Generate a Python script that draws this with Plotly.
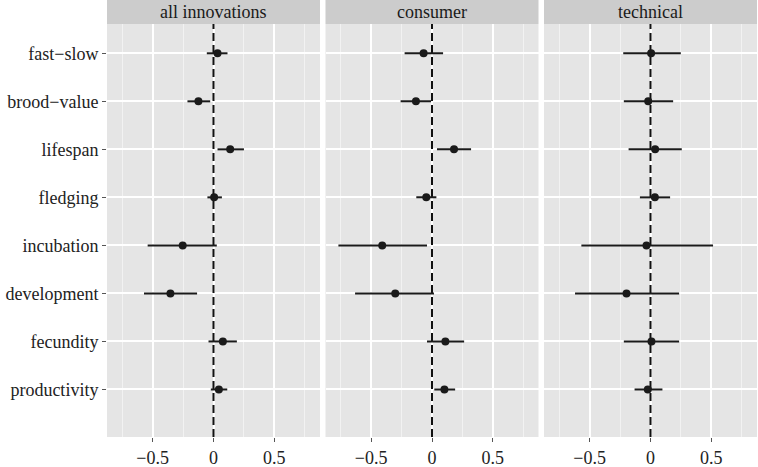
import plotly.graph_objects as go
from plotly.subplots import make_subplots

traits = ["fast−slow", "brood−value", "lifespan", "fledging",
          "incubation", "development", "fecundity", "productivity"]
panels = ["all innovations", "consumer", "technical"]

est_all = [0.033, -0.124, 0.137, 0.005, -0.253, -0.354, 0.077, 0.044]
lo_all = [-0.055, -0.214, 0.033, -0.050, -0.541, -0.571, -0.041, -0.022]
hi_all = [0.115, -0.027, 0.250, 0.069, 0.027, -0.135, 0.192, 0.113]

est_con = [-0.069, -0.132, 0.181, -0.047, -0.409, -0.302, 0.110, 0.102]
lo_con = [-0.225, -0.258, 0.041, -0.129, -0.769, -0.632, -0.041, 0.019]
hi_con = [0.091, -0.008, 0.321, 0.036, -0.041, 0.016, 0.264, 0.190]

est_tec = [0.005, -0.019, 0.038, 0.036, -0.033, -0.197, 0.008, -0.022]
lo_tec = [-0.224, -0.219, -0.180, -0.087, -0.568, -0.620, -0.219, -0.131]
hi_tec = [0.249, 0.186, 0.257, 0.161, 0.514, 0.235, 0.235, 0.098]

x_ticks = [-0.5, 0, 0.5]
x_ticktext = ["−0.5", "0", "0.5"]
x_minor = [-0.75, -0.25, 0.25, 0.75]

data = [(est_all, lo_all, hi_all), (est_con, lo_con, hi_con), (est_tec, lo_tec, hi_tec)]

FONT = "Liberation Serif, DejaVu Serif, serif"
W, H = 758, 467
ML, MR, MT, MB = 107, 1, 24, 30
pw = W - ML - MR
ph = H - MT - MB
panel_w = 213
gap = (pw - 3 * panel_w) / 2

n = len(traits)
ypos = [n - 1 - k for k in range(n)]
y_range = [-0.99, n - 1 + 0.61]

fig = make_subplots(rows=1, cols=3, shared_yaxes=True)

for i, (est, lo, hi) in enumerate(data):
    col = i + 1
    # zero reference line (drawn first, under the points)
    fig.add_trace(go.Scatter(
        x=[0, 0], y=y_range, mode="lines",
        line=dict(color="#111111", width=2, dash="8px,4px"),
        showlegend=False, hoverinfo="skip"), row=1, col=col)
    fig.add_trace(go.Scatter(
        x=est, y=ypos, mode="markers",
        marker=dict(color="#1a1a1a", size=8),
        error_x=dict(type="data", symmetric=False,
                     array=[h - e for h, e in zip(hi, est)],
                     arrayminus=[e - l for e, l in zip(est, lo)],
                     color="#1a1a1a", thickness=2, width=0),
        showlegend=False, hoverinfo="skip"), row=1, col=col)
    x0 = (i * (panel_w + gap)) / pw
    x1 = (i * (panel_w + gap) + panel_w) / pw
    xa = "xaxis" if i == 0 else f"xaxis{col}"
    ya = "yaxis" if i == 0 else f"yaxis{col}"
    fig.layout[xa].update(
        domain=[x0, x1], range=[-0.875, 0.875], automargin=False,
        tickvals=x_ticks, ticktext=x_ticktext,
        showgrid=True, gridcolor="white", gridwidth=1.5,
        minor=dict(tickvals=x_minor, showgrid=True, gridcolor="#F2F2F2", gridwidth=1, ticks=""),
        ticks="outside", ticklen=4, tickcolor="#555555", tickwidth=1,
        zeroline=False, showline=False,
        tickfont=dict(family=FONT, size=18, color="#222222"))
    fig.layout[ya].update(
        range=y_range, tickvals=ypos, ticktext=traits, automargin=False,
        domain=[0, 1],
        showgrid=True, gridcolor="white", gridwidth=1.5,
        zeroline=False, showline=False,
        showticklabels=(i == 0),
        ticks="outside" if i == 0 else "", ticklen=4, tickcolor="#555555", tickwidth=1,
        tickfont=dict(family=FONT, size=18, color="#222222"))
    fig.add_shape(type="rect", xref="paper", yref="paper", x0=x0, x1=x1,
                  y0=1, y1=1 + MT / ph, fillcolor="#CCCCCC", line=dict(width=0), layer="above")
    fig.add_annotation(text=panels[i], xref="paper", yref="paper",
                       x=(x0 + x1) / 2, y=1 + MT / (2 * ph), showarrow=False,
                       font=dict(family=FONT, size=18, color="#1a1a1a"),
                       xanchor="center", yanchor="middle")

fig.update_layout(
    width=W, height=H,
    margin=dict(l=ML, r=MR, t=MT, b=MB, autoexpand=False),
    paper_bgcolor="white", plot_bgcolor="#E5E5E5",
    font=dict(family=FONT, size=18, color="#222222"),
    showlegend=False,
)

fig.write_html("out.html", config={"displayModeBar": False},
               post_script="document.body.style.margin='0';document.body.style.overflow='hidden';")
